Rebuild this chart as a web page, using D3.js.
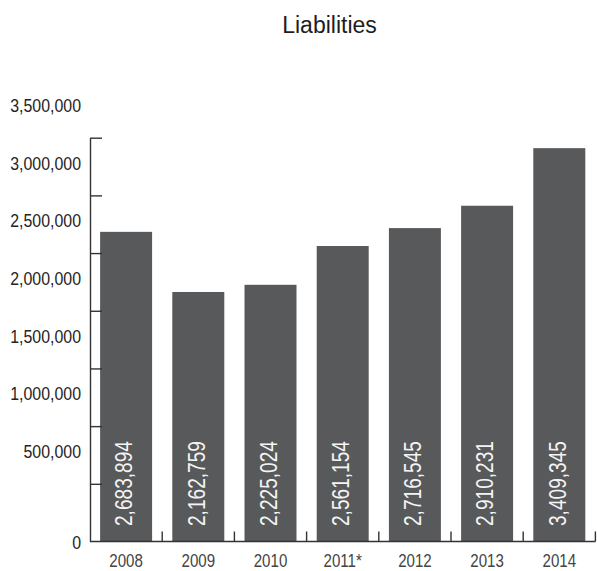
<!DOCTYPE html>
<html>
<head>
<meta charset="utf-8">
<script src="https://cdn.jsdelivr.net/npm/d3@7"></script>
<style>
  html, body { margin: 0; padding: 0; background: #fff; }
  svg { display: block; font-family: "Liberation Sans", Arial, Helvetica, sans-serif; }
</style>
</head>
<body>
<svg id="chart" width="597" height="571"></svg>
<script>
// Liabilities by year
const years = ["2008", "2009", "2010", "2011*", "2012", "2013", "2014"];
const liabilities = [2683894, 2162759, 2225024, 2561154, 2716545, 2910231, 3409345];
const yTicks = [0, 500000, 1000000, 1500000, 2000000, 2500000, 3000000, 3500000];

const svg = d3.select("#chart");
const plotLeft = 90, plotRight = 595.4, plotTop = 137.7, plotBottom = 541.5;

const x = d3.scaleBand()
  .domain(years)
  .range([plotLeft, plotRight])
  .paddingInner(0.28)
  .paddingOuter(0.14);

const y = d3.scaleLinear()
  .domain([0, 3500000])
  .range([plotBottom, plotTop]);

const fmt = d3.format(",");
const axisColor = "#333";
const textColor = "#262324";

// title
svg.append("text")
  .attr("x", 329.5)
  .attr("y", 32.7)
  .attr("text-anchor", "middle")
  .attr("font-size", 23)
  .attr("fill", "#1f1c1d")
  .text("Liabilities");

const rows = years.map((yr, i) => ({ yr, v: liabilities[i] }));

// bars
svg.append("g")
  .selectAll("rect")
  .data(rows)
  .join("rect")
  .attr("x", d => x(d.yr))
  .attr("width", x.bandwidth())
  .attr("y", d => y(d.v))
  .attr("height", d => y(0) - y(d.v))
  .attr("fill", "#58595b");

// value labels inside bars, reading upward
svg.append("g")
  .selectAll("text")
  .data(rows)
  .join("text")
  .attr("transform", d => `translate(${x(d.yr) + x.bandwidth() / 2 + 6.2},526) rotate(-90) scale(0.83,1)`)
  .attr("text-anchor", "start")
  .attr("font-size", 23)
  .attr("fill", "#f4f4f4")
  .text(d => fmt(d.v));

// y axis with inward ticks
const yAxis = svg.append("g")
  .attr("transform", `translate(${plotLeft},0)`)
  .call(d3.axisLeft(y).tickValues(yTicks).tickSizeInner(-12).tickSizeOuter(0).tickFormat(fmt));

yAxis.select(".domain").attr("stroke", axisColor).attr("stroke-width", 1.4);
yAxis.selectAll(".tick line").attr("stroke", axisColor).attr("stroke-width", 1.4);
yAxis.selectAll(".tick text")
  .attr("x", null)
  .attr("dy", "0.36em")
  .attr("transform", d => `translate(-9,${d === 0 ? 0 : -33}) scale(0.86,1)`)
  .attr("text-anchor", "end")
  .attr("font-size", 18.5)
  .attr("font-family", "Liberation Sans, Arial, sans-serif")
  .attr("fill", textColor);
yAxis.selectAll(".tick").filter(d => d === 0).select("line").remove();

// x axis baseline with separators between categories
const xAxis = svg.append("g").attr("transform", `translate(0,${plotBottom})`);
xAxis.append("line")
  .attr("x1", plotLeft).attr("x2", plotRight)
  .attr("y1", 0).attr("y2", 0)
  .attr("stroke", axisColor).attr("stroke-width", 1.4);

const gap = x.step() * x.paddingInner() / 2;
xAxis.selectAll(".sep")
  .data(years)
  .join("line")
  .attr("class", "sep")
  .attr("x1", d => x(d) + x.bandwidth() + gap)
  .attr("x2", d => x(d) + x.bandwidth() + gap)
  .attr("y1", 0).attr("y2", -10)
  .attr("stroke", axisColor).attr("stroke-width", 1.4);

xAxis.selectAll(".lbl")
  .data(years)
  .join("text")
  .attr("class", "lbl")
  .attr("transform", d => `translate(${x(d) + x.bandwidth() / 2},${567 - plotBottom}) scale(0.82,1)`)
  .attr("text-anchor", "middle")
  .attr("font-size", 18.4)
  .attr("fill", "#444")
  .text(d => d);
</script>
</body>
</html>
